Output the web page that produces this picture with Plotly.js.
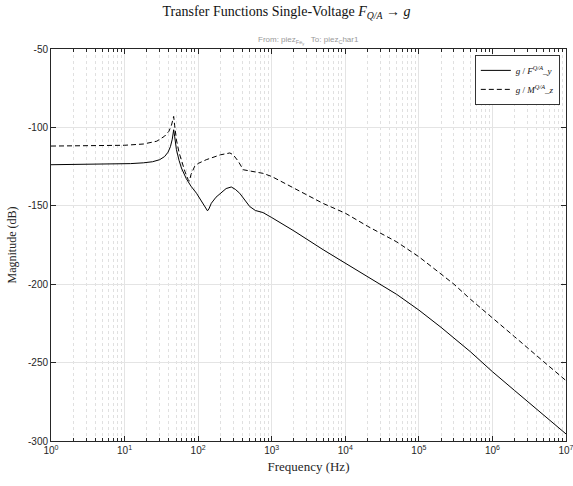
<!DOCTYPE html>
<html>
<head>
<meta charset="utf-8">
<script src="https://cdn.plot.ly/plotly-3.0.1.min.js"></script>
<style>html,body{margin:0;padding:0;background:#fff;}#chart{width:573px;height:486px;}</style>
</head>
<body>
<div id="chart"></div>
<script>
// Series 1: g / F^{Q/A}_y (solid)
const freqSolid = [1, 3, 7, 12, 18, 24, 30, 35, 39, 42, 44.5, 46.5, 48, 50.7, 55, 59.3, 69, 80, 95, 117, 128, 134, 140, 151, 175, 196, 240, 282, 320, 367, 430, 501, 600, 760, 1000, 2000, 5000, 10000, 20000, 50000, 100000, 200000, 500000, 1000000, 2000000, 5000000, 10000000];
const magSolid = [-123.8, -123.7, -123.4, -123.1, -122.6, -121.9, -120.6, -118.6, -115.8, -112.3, -107.5, -101.5, -106, -114.2, -121, -125.9, -132.7, -137.5, -142, -149.3, -152.3, -153.2, -152, -148.4, -144.5, -142.6, -139, -138, -139.5, -142, -146.5, -150.4, -153, -154.3, -157.5, -166, -178, -186.5, -195.5, -206.5, -216.5, -227.5, -243, -255.8, -267.8, -283.5, -295.5];

// Series 2: g / M^{Q/A}_z (dashed)
const freqDashed = [1, 5, 10, 18, 24, 27.4, 35, 40, 43.4, 45.5, 46.5, 48, 50.7, 55, 59.3, 66, 73, 76, 80, 90, 100, 129, 200, 270, 300, 350, 410, 500, 760, 1000, 2000, 5000, 10000, 20000, 50000, 100000, 200000, 300000, 500000, 1000000, 2000000, 5000000, 10000000];
const magDashed = [-111.9, -111.7, -111.4, -110.6, -109.6, -108.8, -105.6, -102.5, -98.6, -95, -93, -99, -108, -116, -121.7, -128, -133.2, -134.3, -130, -124.7, -123, -120.6, -117.5, -116.3, -117.5, -121.5, -127, -127.8, -129.3, -131.3, -138.5, -148.5, -154.7, -163, -173, -182.5, -193.5, -200, -209.5, -221.8, -233.5, -249.5, -261.5];

const legendNames = ['<i>g</i> / <i>F</i><sup><i>Q/A</i></sup>_<i>y</i>', '<i>g</i> / <i>M</i><sup><i>Q/A</i></sup>_<i>z</i>'];
const xTickVals = [1, 10, 100, 1000, 10000, 100000, 1000000, 10000000];
const xTickText = ['10<sup>0</sup>', '10<sup>1</sup>', '10<sup>2</sup>', '10<sup>3</sup>', '10<sup>4</sup>', '10<sup>5</sup>', '10<sup>6</sup>', '10<sup>7</sup>'];
const yTickVals = [-300, -250, -200, -150, -100, -50];
const yTickText = ['-300', '-250', '-200', '-150', '-100', '-50'];

const traces = [
  {x: freqSolid, y: magSolid, type: 'scatter', mode: 'lines', name: legendNames[0],
   line: {color: '#000', width: 1}},
  {x: freqDashed, y: magDashed, type: 'scatter', mode: 'lines', name: legendNames[1],
   line: {color: '#000', width: 1, dash: '5px,3px'}}
];

const layout = {
  width: 573, height: 486,
  margin: {l: 51, r: 7, t: 49, b: 45},
  paper_bgcolor: '#fff', plot_bgcolor: '#fff',
  showlegend: true,
  title: {text: 'Transfer Functions Single-Voltage <i>F</i><sub><i>Q/A</i></sub> → <i>g</i>',
          font: {family: 'Liberation Serif, serif', size: 14, color: '#111'},
          x: 0.5, xanchor: 'center', y: 0.978, yanchor: 'middle'},
  xaxis: {
    type: 'log', range: [0, 7],
    tickmode: 'array', tickvals: xTickVals, ticktext: xTickText,
    ticklabeloverflow: 'allow',
    ticks: 'inside', ticklen: 5, tickcolor: '#262626',
    showline: true, linecolor: '#262626', linewidth: 1, mirror: 'allticks',
    showgrid: true, gridcolor: '#e4e4e4', gridwidth: 1,
    zeroline: false,
    minor: {dtick: 'D1', ticks: 'inside', ticklen: 3, tickcolor: '#262626',
            showgrid: true, gridcolor: '#e0e0e0', griddash: 'dot', gridwidth: 1},
    tickfont: {family: 'Liberation Sans, Arial, sans-serif', size: 10, color: '#262626'},
    title: {text: 'Frequency (Hz)', font: {family: 'Liberation Serif, serif', size: 13, color: '#262626'}, standoff: 6}
  },
  yaxis: {
    range: [-300, -50], tickmode: 'array', tickvals: yTickVals, ticktext: yTickText,
    ticks: 'inside', ticklen: 5, tickcolor: '#262626',
    showline: true, linecolor: '#262626', linewidth: 1, mirror: 'allticks',
    showgrid: true, gridcolor: '#e4e4e4', gridwidth: 1,
    zeroline: false,
    tickfont: {family: 'Liberation Sans, Arial, sans-serif', size: 10, color: '#262626'},
    title: {text: 'Magnitude (dB)', font: {family: 'Liberation Serif, serif', size: 12, color: '#262626'}, standoff: 8}
  },
  legend: {x: 0.988, xanchor: 'right', y: 0.985, yanchor: 'top',
           bgcolor: '#fff', bordercolor: '#333', borderwidth: 1,
           font: {family: 'Liberation Serif, serif', size: 9, color: '#111'},
           itemwidth: 30, tracegroupgap: 2},
  annotations: [
    {text: 'From: piez<sub>Fe<sub>y</sub></sub>   To: piez<sub>C</sub>har1', xref: 'paper', yref: 'paper',
     x: 0.5, y: 1, xanchor: 'center', yanchor: 'bottom', yshift: 1, showarrow: false,
     font: {family: 'Liberation Sans, Arial, sans-serif', size: 8, color: '#999'}}
  ]
};

Plotly.newPlot('chart', traces, layout, {displayModeBar: false, staticPlot: true});
</script>
</body>
</html>
